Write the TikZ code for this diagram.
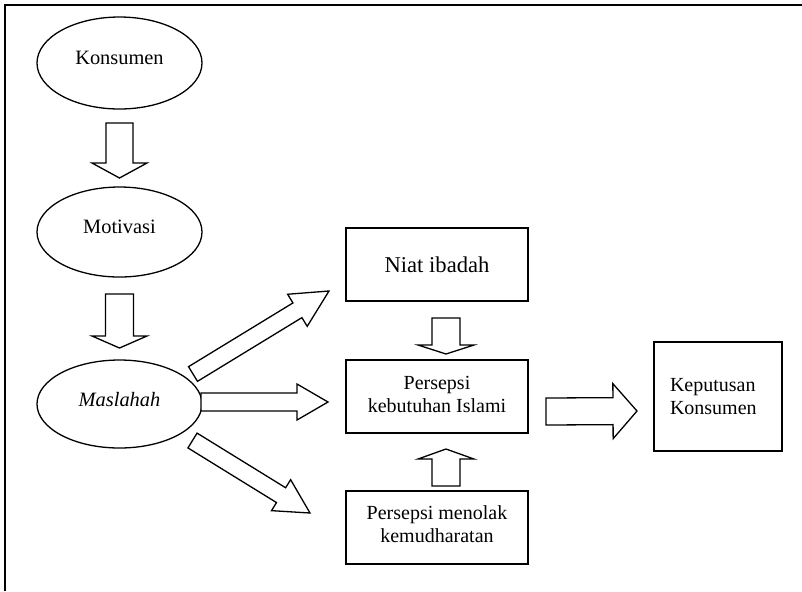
\documentclass[tikz,border=0pt]{standalone}
\usepackage{fontspec}
\setmainfont{Liberation Serif}
\usetikzlibrary{shapes.geometric,calc}
\tikzset{
  ell/.style={ellipse,draw,line width=0.65pt,inner sep=0pt,minimum width=82.5pt,text depth=5pt,
    font=\fontsize{10.2pt}{11.5pt}\selectfont},
  box/.style={rectangle,draw,line width=0.65pt,inner sep=0pt,minimum width=91pt,minimum height=36.5pt,
    align=center,font=\fontsize{10pt}{11.5pt}\selectfont},
  barrow/.style={draw,line width=0.65pt,line join=miter,fill=white},
  frameline/.style={line width=0.8pt}
}
% #1 tail, #2 tip, #3 shaft half width, #4 head half width, #5 head length
\newcommand\blockarrow[5]{%
  \coordinate (ba-n) at ($(#2)!#5!(#1)$);
  \draw[barrow] ($(#1)!#3!90:(#2)$) -- ($(ba-n)!#3!90:(#2)$) -- ($(ba-n)!#4!90:(#2)$) -- (#2)
    -- ($(ba-n)!#4!-90:(#2)$) -- ($(ba-n)!#3!-90:(#2)$) -- ($(#1)!#3!-90:(#2)$) -- cycle;}
\begin{document}
\begin{tikzpicture}[x=0.5pt,y=-0.5pt]
\useasboundingbox (0,0) rectangle (802,591);
\draw[frameline] (5,591) -- (5,5) -- (802,5);

\node[ell,minimum height=46pt] (kons) at (119.5,63) {Konsumen};
\node[ell,minimum height=45pt] (moti) at (119.5,232) {Motivasi};
\node[ell,minimum height=44pt] (masl) at (119.5,404) {\itshape Maslahah};

\node[box,font=\fontsize{11.3pt}{13pt}\selectfont] (niat) at (437,264.5) {Niat ibadah};
\node[box,text depth=2pt] (pkeb) at (437,396.5) {Persepsi\\kebutuhan Islami};
\node[box,text depth=3pt] (pmen) at (437,527.5) {Persepsi menolak\\kemudharatan};
\node[box,minimum width=64pt,minimum height=54.5pt,text width=48pt,inner xsep=8pt,align=left] (kep) at (718,396.5) {Keputusan\\Konsumen};

\coordinate (a1s) at (119.5,123); \coordinate (a1e) at (119.5,178);
\coordinate (a2s) at (119.5,294); \coordinate (a2e) at (119.5,348);
\coordinate (a3s) at (446,318);   \coordinate (a3e) at (446,354);
\coordinate (a4s) at (446,486);   \coordinate (a4e) at (446,449);
\coordinate (a5s) at (546,411.5); \coordinate (a5e) at (637,411);
\coordinate (a6s) at (201,402);   \coordinate (a6e) at (328,402);
\coordinate (a7s) at (193,374);   \coordinate (a7e) at (329,291);
\coordinate (a8s) at (192.5,440.5); \coordinate (a8e) at (310,513);

\blockarrow{a1s}{a1e}{6.75pt}{13.75pt}{7.5pt}
\blockarrow{a2s}{a2e}{7pt}{13.75pt}{6pt}
\blockarrow{a3s}{a3e}{7pt}{14pt}{4.5pt}
\blockarrow{a4s}{a4e}{7pt}{14pt}{5pt}
\blockarrow{a5s}{a5e}{6.75pt}{13.75pt}{12pt}
\blockarrow{a6s}{a6e}{4.5pt}{9pt}{15.5pt}
\blockarrow{a7s}{a7e}{4.3pt}{9.4pt}{18.5pt}
\blockarrow{a8s}{a8e}{4.35pt}{9.1pt}{17pt}
\end{tikzpicture}
\end{document}
